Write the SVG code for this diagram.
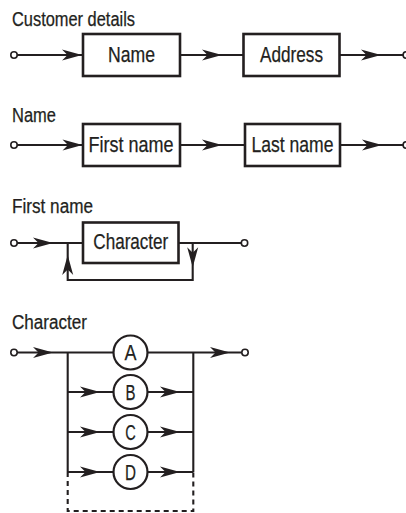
<svg xmlns="http://www.w3.org/2000/svg" xmlns:xlink="http://www.w3.org/1999/xlink" width="406" height="513" viewBox="0 0 406 513">
  <style>
    .lbl { font-family: "Liberation Sans Narrow", "Liberation Sans", Arial, sans-serif; font-size: 19.5px; fill: #231f20; stroke: #231f20; stroke-width: 0.25; }
    .txt { font-family: "Liberation Sans Narrow", "Liberation Sans", Arial, sans-serif; font-size: 21.5px; fill: #231f20; stroke: #231f20; stroke-width: 0.25; text-anchor: middle; }
    .box { fill: #fff; stroke: #231f20; stroke-width: 2.6; }
    .node { fill: #fff; stroke: #231f20; stroke-width: 2.2; }
    .term { fill: #fff; stroke: #231f20; stroke-width: 1.6; }
    .ln { fill: none; stroke: #231f20; stroke-width: 2.1; }
    .dash { fill: none; stroke: #231f20; stroke-width: 2.1; stroke-dasharray: 5 4; }
    .ah { fill: #231f20; }
  </style>
  <defs>
    <path id="arr" class="ah" d="M0,0 L-20,-5.5 L-14.5,0 L-20,5.5 Z"/>
  </defs>

  <rect width="406" height="513" fill="#fff"/>

  <!-- titles -->
  <text class="lbl" x="12" y="26" textLength="123" lengthAdjust="spacingAndGlyphs">Customer details</text>
  <text class="lbl" x="12" y="122" textLength="44" lengthAdjust="spacingAndGlyphs">Name</text>
  <text class="lbl" x="12" y="212.5" textLength="81" lengthAdjust="spacingAndGlyphs">First name</text>
  <text class="lbl" x="12" y="328.5" textLength="75" lengthAdjust="spacingAndGlyphs">Character</text>

  <!-- connectors -->
  <g id="connectors">
    <!-- row 1 -->
    <line class="ln" x1="17" y1="55" x2="83" y2="55"/>
    <use xlink:href="#arr" href="#arr" transform="translate(82,55)"/>
    <line class="ln" x1="180" y1="55" x2="243.5" y2="55"/>
    <use xlink:href="#arr" href="#arr" transform="translate(222,55)"/>
    <line class="ln" x1="339.5" y1="55" x2="403" y2="55"/>
    <use xlink:href="#arr" href="#arr" transform="translate(381,55)"/>
    <!-- row 2 -->
    <line class="ln" x1="17" y1="145" x2="83" y2="145"/>
    <use xlink:href="#arr" href="#arr" transform="translate(82.5,145)"/>
    <line class="ln" x1="180" y1="145" x2="245" y2="145"/>
    <use xlink:href="#arr" href="#arr" transform="translate(222,145)"/>
    <line class="ln" x1="340" y1="145" x2="403" y2="145"/>
    <use xlink:href="#arr" href="#arr" transform="translate(382,145)"/>
    <!-- row 3 -->
    <line class="ln" x1="17" y1="243" x2="83" y2="243"/>
    <use xlink:href="#arr" href="#arr" transform="translate(53,243)"/>
    <line class="ln" x1="178.5" y1="243" x2="241.3" y2="243"/>
    <path class="ln" d="M192.7,243 V280 H67.7 V243"/>
    <use xlink:href="#arr" href="#arr" transform="translate(192.7,267.3) rotate(90)"/>
    <use xlink:href="#arr" href="#arr" transform="translate(67.7,255) rotate(-90)"/>
    <!-- row 4 -->
    <line class="ln" x1="17" y1="352.5" x2="113.5" y2="352.5"/>
    <use xlink:href="#arr" href="#arr" transform="translate(53,352.5)"/>
    <line class="ln" x1="147.5" y1="352.5" x2="241.8" y2="352.5"/>
    <use xlink:href="#arr" href="#arr" transform="translate(230,352.5)"/>
    <line class="ln" x1="67.7" y1="352.5" x2="67.7" y2="472"/>
    <line class="ln" x1="193.3" y1="352.5" x2="193.3" y2="472"/>
    <line class="ln" x1="67.7" y1="392" x2="113.5" y2="392"/>
    <use xlink:href="#arr" href="#arr" transform="translate(100,392)"/>
    <line class="ln" x1="147.5" y1="392" x2="193.3" y2="392"/>
    <use xlink:href="#arr" href="#arr" transform="translate(180,392)"/>
    <line class="ln" x1="67.7" y1="432" x2="113.5" y2="432"/>
    <use xlink:href="#arr" href="#arr" transform="translate(100,432)"/>
    <line class="ln" x1="147.5" y1="432" x2="193.3" y2="432"/>
    <use xlink:href="#arr" href="#arr" transform="translate(180,432)"/>
    <line class="ln" x1="67.7" y1="472" x2="113.5" y2="472"/>
    <use xlink:href="#arr" href="#arr" transform="translate(100,472)"/>
    <line class="ln" x1="147.5" y1="472" x2="193.3" y2="472"/>
    <use xlink:href="#arr" href="#arr" transform="translate(180,472)"/>
    <path class="dash" d="M67.7,472 V511 H193.3 V472"/>
  </g>

  <!-- terminals -->
  <g id="start1"><circle class="term" cx="14" cy="55" r="3.2"/></g>
  <g id="end1"><circle class="term" cx="406.3" cy="55" r="3.2"/></g>
  <g id="start2"><circle class="term" cx="14" cy="145" r="3.2"/></g>
  <g id="end2"><circle class="term" cx="406.3" cy="145" r="3.2"/></g>
  <g id="start3"><circle class="term" cx="14" cy="243" r="3.2"/></g>
  <g id="end3"><circle class="term" cx="244.5" cy="243" r="3.2"/></g>
  <g id="start4"><circle class="term" cx="14" cy="352.5" r="3.2"/></g>
  <g id="end4"><circle class="term" cx="245" cy="352.5" r="3.2"/></g>

  <!-- nodes -->
  <g id="cd-name">
    <rect class="box" x="83" y="34" width="97" height="42"/>
    <text class="txt" x="131.5" y="62" textLength="47" lengthAdjust="spacingAndGlyphs">Name</text>
  </g>
  <g id="cd-address">
    <rect class="box" x="243.5" y="34" width="96" height="42"/>
    <text class="txt" x="291.5" y="62" textLength="63" lengthAdjust="spacingAndGlyphs">Address</text>
  </g>
  <g id="n-first">
    <rect class="box" x="83" y="124" width="97" height="42"/>
    <text class="txt" x="131" y="152" textLength="85" lengthAdjust="spacingAndGlyphs">First name</text>
  </g>
  <g id="n-last">
    <rect class="box" x="245" y="124" width="95" height="42"/>
    <text class="txt" x="292.5" y="152" textLength="82" lengthAdjust="spacingAndGlyphs">Last name</text>
  </g>
  <g id="fn-character">
    <rect class="box" x="83" y="222.5" width="95.5" height="40.5"/>
    <text class="txt" x="130.8" y="248.5" textLength="75" lengthAdjust="spacingAndGlyphs">Character</text>
  </g>
  <g id="ch-a">
    <circle class="node" cx="130.5" cy="352.5" r="17"/>
    <text class="txt" x="130.5" y="360" textLength="12" lengthAdjust="spacingAndGlyphs">A</text>
  </g>
  <g id="ch-b">
    <circle class="node" cx="130.5" cy="392" r="17"/>
    <text class="txt" x="130.5" y="399.5" textLength="10" lengthAdjust="spacingAndGlyphs">B</text>
  </g>
  <g id="ch-c">
    <circle class="node" cx="130.5" cy="432" r="17"/>
    <text class="txt" x="130.5" y="439.5" textLength="10.5" lengthAdjust="spacingAndGlyphs">C</text>
  </g>
  <g id="ch-d">
    <circle class="node" cx="130.5" cy="472" r="17"/>
    <text class="txt" x="130.5" y="479.5" textLength="11" lengthAdjust="spacingAndGlyphs">D</text>
  </g>
</svg>
